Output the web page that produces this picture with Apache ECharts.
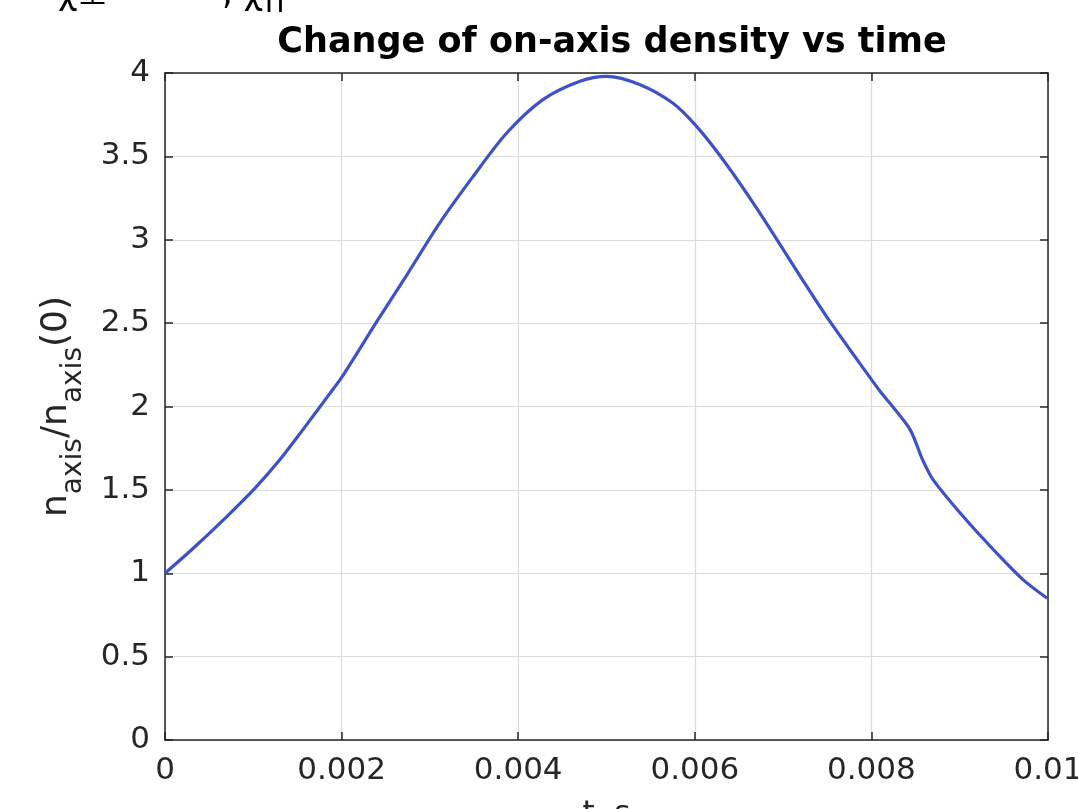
<!DOCTYPE html>
<html>
<head>
<meta charset="utf-8">
<script src="https://cdn.jsdelivr.net/npm/echarts@6/dist/echarts.min.js"></script>
<style>html,body{margin:0;padding:0;background:#fff;}#c{width:1078px;height:809px;}</style>
</head>
<body>
<div id="c"></div>
<script>
var tValues = [0, 0.00032, 0.0007, 0.00102, 0.0013, 0.00156, 0.00187, 0.00202, 0.0024, 0.00274, 0.00311, 0.00349, 0.00387, 0.00428, 0.0047, 0.0050, 0.00538, 0.00575, 0.00602, 0.00632, 0.0067, 0.00722, 0.00753, 0.00784, 0.0081, 0.00824, 0.00844, 0.00858, 0.0087, 0.00904, 0.00942, 0.00972, 0.00999];
var nValues = [1.00, 1.15, 1.34, 1.51, 1.68, 1.86, 2.08, 2.19, 2.51, 2.79, 3.10, 3.38, 3.64, 3.84, 3.95, 3.98, 3.93, 3.82, 3.68, 3.48, 3.19, 2.76, 2.51, 2.28, 2.09, 2.00, 1.86, 1.68, 1.56, 1.34, 1.12, 0.96, 0.85];
var xTicks = [0, 0.002, 0.004, 0.006, 0.008, 0.01];
var yTicks = [0, 0.5, 1, 1.5, 2, 2.5, 3, 3.5, 4];
var titleText = 'Change of on-axis density vs time';
var xName = 't, s';

var pts = tValues.map(function (t, i) { return [t, nValues[i]]; });
var axisColor = '#262626';
var font = 'DejaVu Sans';

var chart = echarts.init(document.getElementById('c'), null, {renderer: 'canvas'});
var baseX = {
  type: 'value', min: xTicks[0], max: xTicks[xTicks.length - 1], interval: 0.002,
  axisLine: {show: true, onZero: false, lineStyle: {color: axisColor, width: 1.5}},
  axisTick: {show: true, inside: true, length: 8, lineStyle: {color: axisColor, width: 1.5}}
};
var baseY = {
  type: 'value', min: yTicks[0], max: yTicks[yTicks.length - 1], interval: 0.5,
  axisLine: {show: true, onZero: false, lineStyle: {color: axisColor, width: 1.5}},
  axisTick: {show: true, inside: true, length: 8, lineStyle: {color: axisColor, width: 1.5}}
};
chart.setOption({
  animation: false,
  backgroundColor: '#ffffff',
  title: {
    text: titleText, left: 607, top: 20, textAlign: 'center',
    textStyle: {fontFamily: font, fontWeight: 'bold', fontSize: 35, color: '#000'}
  },
  graphic: [
    {type: 'text', left: 58, top: -22, style: {text: 'χ⊥', fontFamily: font, fontSize: 34, fill: '#000'}},
    {type: 'text', left: 222, top: -22, style: {text: ', χ||', fontFamily: font, fontSize: 34, fill: '#000'}}
  ],
  grid: {left: 165, right: 30, top: 73, bottom: 69, containLabel: false, outerBoundsMode: 'none'},
  xAxis: [
    Object.assign({}, baseX, {
      position: 'bottom',
      name: xName, nameLocation: 'middle', nameGap: 58,
      nameTextStyle: {fontFamily: font, fontSize: 31, color: axisColor},
      axisLabel: {
        show: true, margin: 15, fontFamily: font, fontSize: 31, color: axisColor,
        formatter: function (v) { return String(+v.toFixed(4)); }
      },
      splitLine: {show: true, lineStyle: {color: '#dcdcdc', width: 1.2}}
    }),
    Object.assign({}, baseX, {position: 'top', axisLabel: {show: false}, splitLine: {show: false}})
  ],
  yAxis: [
    Object.assign({}, baseY, {
      position: 'left',
      name: '{b|n}{s|axis}{b|/n}{s|axis}{b|(0)}', nameLocation: 'middle', nameGap: 77, nameRotate: 90,
      nameTextStyle: {
        rich: {
          b: {fontFamily: font, fontSize: 36, color: axisColor, verticalAlign: 'middle', lineHeight: 62},
          s: {fontFamily: font, fontSize: 28, color: axisColor, verticalAlign: 'bottom', lineHeight: 28}
        }
      },
      axisLabel: {
        show: true, margin: 15, fontFamily: font, fontSize: 31, color: axisColor,
        formatter: function (v) { return String(v); }
      },
      splitLine: {show: true, lineStyle: {color: '#dcdcdc', width: 1.2}}
    }),
    Object.assign({}, baseY, {position: 'right', axisLabel: {show: false}, splitLine: {show: false}})
  ],
  series: [{
    type: 'line', data: pts, xAxisIndex: 0, yAxisIndex: 0,
    smooth: 0.3, showSymbol: false, symbol: 'none',
    lineStyle: {color: '#3d52c6', width: 3.2}
  }]
});
</script>
</body>
</html>
